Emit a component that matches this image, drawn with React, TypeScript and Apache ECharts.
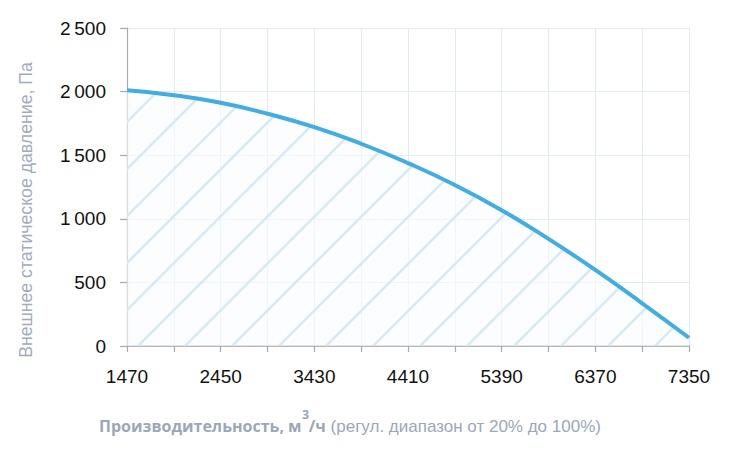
import React, { useEffect, useRef } from "react";
import * as echarts from "echarts";

const flowValues = [1470, 1960, 2450, 2940, 3430, 3920, 4410, 4900, 5390, 5880, 6370, 6860, 7350];
const pressureValues = [2010, 1972, 1912, 1826, 1720, 1590, 1438, 1266, 1068, 842, 598, 336, 65];
const xLabelStep = 980;
const yTicks = [0, 500, 1000, 1500, 2000, 2500];

const yTitle = "Внешнее статическое давление, Па";
const xTitleBold = "Производительность, м";
const xTitleSup = "3";
const xTitleBold2 = "/ч";
const xTitleNormal = "(регул. диапазон от 20% до 100%)";

function makeHatch() {
  const s = 47;
  const c = document.createElement("canvas");
  c.width = s;
  c.height = s;
  const ctx = c.getContext("2d")!;
  ctx.fillStyle = "rgba(248,251,254,0.6)";
  ctx.fillRect(0, 0, s, s);
  ctx.strokeStyle = "#d6e9f4";
  ctx.lineWidth = 2.4;
  const off = 14;
  for (const k of [-1, 0, 1, 2]) {
    const cc = off + k * s;
    ctx.beginPath();
    ctx.moveTo(-10, cc + 10);
    ctx.lineTo(s + 10, cc - s - 10);
    ctx.stroke();
  }
  return c;
}

function fmtY(v: number) {
  const s = String(v);
  return v >= 1000 ? s.slice(0, s.length - 3) + "\u2009" + s.slice(s.length - 3) : s;
}

function measure(text: string, font: string) {
  const c = document.createElement("canvas");
  const ctx = c.getContext("2d")!;
  ctx.font = font;
  return ctx.measureText(text).width;
}

export default function App() {
  const ref = useRef<HTMLDivElement>(null);
  useEffect(() => {
    document.body.style.margin = "0";
    const chart = echarts.init(ref.current!, null, { renderer: "svg" });
    const hatch = makeHatch();
    const data = flowValues.map((x, i) => [x, pressureValues[i]]);
    const xMin = flowValues[0];
    const xMax = flowValues[flowValues.length - 1];
    const labelFont = "'Liberation Sans', Arial, sans-serif";

    const boldFont = "bold 16px 'Open Sans', sans-serif";
    const supFont = "bold 12.5px 'Open Sans', sans-serif";
    const normFont = "17px 'Liberation Sans', Arial, sans-serif";
    const w1 = measure(xTitleBold, boldFont);
    const ws = measure(xTitleSup, supFont);
    const w2 = measure(xTitleBold2, boldFont);
    const wsp = measure(" ", normFont);
    const wn = measure(xTitleNormal, normFont);
    const total = w1 + ws + w2 + wsp + wn;
    const x0 = 350 - total / 2;
    const titleFill = "#9aa8b9";
    const ty = 426;

    chart.setOption({
      animation: false,
      grid: { left: 127, right: 41, top: 28, bottom: 110 },
      xAxis: {
        type: "value",
        min: xMin,
        max: xMax,
        interval: 490,
        axisLine: { show: true, lineStyle: { color: "#a9a9a9", width: 1.5 } },
        axisTick: { show: true, length: 6, lineStyle: { color: "#a9a9a9", width: 1.2 } },
        splitLine: { show: true, lineStyle: { color: "#e2eaf4", width: 1 } },
        axisLabel: {
          margin: 21,
          color: "#111",
          fontSize: 19,
          fontFamily: labelFont,
          formatter: (v: number) => ((v - xMin) % xLabelStep === 0 ? String(v) : ""),
          showMinLabel: true,
          showMaxLabel: true,
        },
      },
      yAxis: {
        type: "value",
        min: yTicks[0],
        max: yTicks[yTicks.length - 1],
        interval: yTicks[1] - yTicks[0],
        axisLine: { show: true, lineStyle: { color: "#a9a9a9", width: 1.2 } },
        axisTick: { show: true, length: 7, lineStyle: { color: "#a9a9a9", width: 1.2 } },
        splitLine: { show: true, lineStyle: { color: "#e2eaf4", width: 1 } },
        axisLabel: {
          margin: 21,
          color: "#111",
          fontSize: 19,
          fontFamily: labelFont,
          formatter: fmtY,
        },
      },
      series: [
        {
          type: "line",
          data,
          smooth: true,
          symbol: "none",
          lineStyle: { color: "#41ade2", width: 4 },
          areaStyle: {
            color: { image: hatch, repeat: "repeat", imageWidth: 47, imageHeight: 47 },
            opacity: 1,
          },
          z: 3,
        },
      ],
      graphic: [
        {
          type: "text",
          x: 26,
          y: 210,
          rotation: Math.PI / 2,
          style: {
            text: yTitle,
            fill: "#9eacbd",
            font: "17.7px 'Liberation Sans', Arial, sans-serif",
            align: "center",
            verticalAlign: "middle",
          },
        },
        {
          type: "text",
          x: x0,
          y: ty,
          style: { text: xTitleBold, fill: titleFill, font: boldFont, align: "left", verticalAlign: "middle" },
        },
        {
          type: "text",
          x: x0 + w1 + 0.5,
          y: ty - 12,
          style: { text: xTitleSup, fill: titleFill, font: supFont, align: "left", verticalAlign: "middle" },
        },
        {
          type: "text",
          x: x0 + w1 + ws,
          y: ty,
          style: { text: xTitleBold2, fill: titleFill, font: boldFont, align: "left", verticalAlign: "middle" },
        },
        {
          type: "text",
          x: x0 + w1 + ws + w2 + wsp,
          y: ty,
          style: { text: xTitleNormal, fill: titleFill, font: normFont, align: "left", verticalAlign: "middle" },
        },
      ],
    });
    return () => chart.dispose();
  }, []);
  return <div ref={ref} style={{ width: 730, height: 456 }} />;
}
